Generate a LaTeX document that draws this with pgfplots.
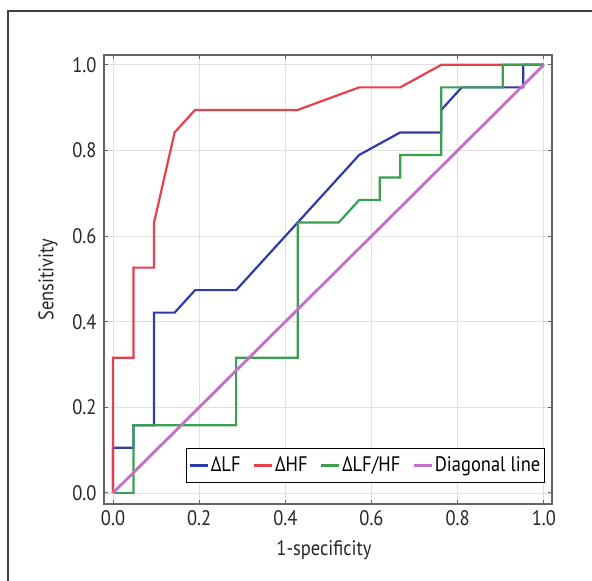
\documentclass[border=0pt]{standalone}
\usepackage{fontspec}
\setmainfont[FakeStretch=0.88]{PT Sans}
\usepackage{pgfplots}
\pgfplotsset{compat=1.18}
\definecolor{cblue}{RGB}{46,60,168}
\definecolor{cred}{RGB}{232,64,74}
\definecolor{cgreen}{RGB}{58,160,80}
\definecolor{cpurple}{RGB}{196,110,200}
\definecolor{framegray}{RGB}{100,100,100}
\newcommand{\lblfont}{\fontsize{21bp}{24bp}\selectfont}
\begin{document}
\begin{tikzpicture}
\path[use as bounding box] (0,0) rectangle (592bp,-581bp);
\draw[line width=1.2bp, color=black!75] (8bp,-581bp) -- (8bp,-11bp) -- (592bp,-11bp);
\begin{axis}[
  at={(104bp,-504bp)}, anchor=south west,
  scale only axis, width=448bp, height=449bp,
  xmin=-0.021, xmax=1.019, ymin=-0.026, ymax=1.023,
  xtick={0,0.2,...,1}, ytick={0,0.2,...,1},
  xticklabel style={/pgf/number format/.cd, fixed, fixed zerofill, precision=1, /tikz/.cd, yshift=-3bp},
  yticklabel style={/pgf/number format/.cd, fixed, fixed zerofill, precision=1, /tikz/.cd, xshift=-4bp},
  /pgf/number format/assume math mode=true,
  tick label style={font=\lblfont, text=black!85},
  label style={font=\lblfont, text=black!85},
  tick align=inside, major tick length=4bp,
  tick style={color=framegray, line width=0.8bp},
  axis line style={color=framegray, line width=1.3bp},
  grid=major, major grid style={color=black!12, line width=0.7bp},
  xlabel={1-specificity}, ylabel={Sensitivity},
  x label style={at={(rel axis cs:0.5,0)}, anchor=center, yshift=-46bp, xshift=-4bp},
  y label style={at={(rel axis cs:0,0.5)}, anchor=center, yshift=56bp},
  legend columns=4,
  legend style={at={(0.984,0.047)}, anchor=south east, draw=black, line width=0.9bp,
    font=\lblfont, inner xsep=2bp, inner ysep=7bp,
    /tikz/every even column/.append style={column sep=10bp}},
  legend image code/.code={\draw[#1, line width=2.6bp] (0bp,0bp) -- (18bp,0bp);},
  every axis plot/.append style={line width=2.2bp, line join=miter},
]
\addplot[color=cblue, mark=none] coordinates {
(0,0) (0,0.1053) (0.0476,0.1053) (0.0476,0.1579) (0.0952,0.1579) (0.0952,0.4211)
(0.1429,0.4211) (0.1905,0.4737) (0.2857,0.4737) (0.4286,0.6316) (0.5714,0.7895)
(0.6667,0.8421) (0.7619,0.8421) (0.7619,0.8947) (0.8095,0.9474) (0.9524,0.9474)
(0.9524,1) (1,1)};
\addlegendentry{ΔLF}
\addplot[color=cred, mark=none] coordinates {
(0,0) (0,0.3158) (0.0476,0.3158) (0.0476,0.5263) (0.0952,0.5263) (0.0952,0.6316)
(0.1429,0.8421) (0.1905,0.8947) (0.4286,0.8947) (0.5714,0.9474) (0.6667,0.9474)
(0.7619,1) (1,1)};
\addlegendentry{ΔHF}
\addplot[color=cgreen, mark=none] coordinates {
(0,0) (0.0476,0) (0.0476,0.1579) (0.2857,0.1579) (0.2857,0.3158) (0.4286,0.3158)
(0.4286,0.6316) (0.5238,0.6316) (0.5714,0.6842) (0.6190,0.6842) (0.6190,0.7368)
(0.6667,0.7368) (0.6667,0.7895) (0.7619,0.7895) (0.7619,0.9474) (0.9048,0.9474)
(0.9048,1) (1,1)};
\addlegendentry{ΔLF/HF}
\addplot[color=cpurple, mark=none, line width=2.8bp] coordinates {(0,0) (1,1)};
\addlegendentry{Diagonal line}
\end{axis}
\end{tikzpicture}
\end{document}
